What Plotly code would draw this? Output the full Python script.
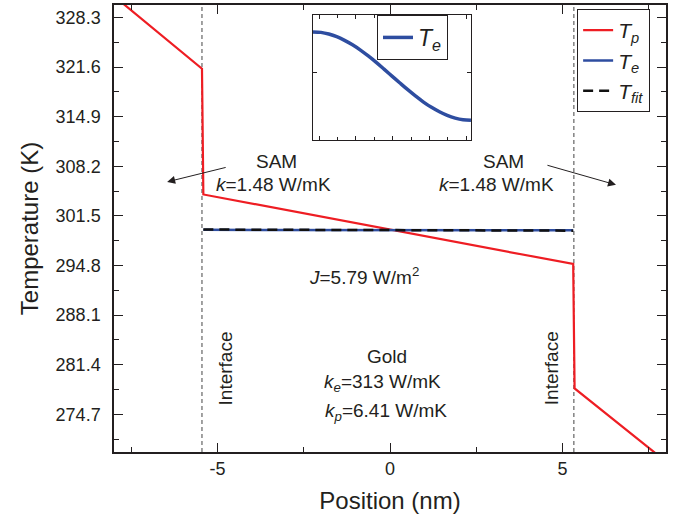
import plotly.graph_objects as go

# ---------------- data ----------------
tp_x = [-8.0, -5.45, -5.41, 5.31, 5.35, 8.0]
tp_y = [331.2, 321.4, 304.4, 295.0, 278.2, 268.3]

te_x = [-5.41, -4.87, -4.34, -3.80, -3.27, -2.73, -2.19, -1.66, -1.12, -0.59, -0.05,
        0.49, 1.02, 1.56, 2.09, 2.63, 3.17, 3.70, 4.24, 4.77, 5.31]
te_y = [299.6200, 299.6196, 299.6183, 299.6162, 299.6133, 299.6098, 299.6056,
        299.6009, 299.5958, 299.5905, 299.5850, 299.5795, 299.5742, 299.5691,
        299.5644, 299.5602, 299.5567, 299.5538, 299.5517, 299.5504, 299.5500]

tfit_x = [-5.41, 5.31]
tfit_y = [299.66, 299.51]

interfaces = [-5.45, 5.33]

y_tickvals = [274.7, 281.4, 288.1, 294.8, 301.5, 308.2, 314.9, 321.6, 328.3]
y_ticktext = ["274.7", "281.4", "288.1", "294.8", "301.5", "308.2", "314.9", "321.6", "328.3"]
y_minor = [271.35, 278.05, 284.75, 291.45, 298.15, 304.85, 311.55, 318.25, 324.95]
x_tickvals = [-5, 0, 5]
x_ticktext = ["-5", "0", "5"]
x_minor = [-7.5, -2.5, 2.5, 7.5]

FONT = "Arial, Liberation Sans, sans-serif"
INK = "#231F20"
RED = "#EE1D23"
BLUE = "#2E4DA0"

fig = go.Figure()
fig.add_trace(go.Scatter(x=tp_x, y=tp_y, mode="lines", name="<i>T</i><sub><i>p</i></sub>",
                         line=dict(color=RED, width=2.2)))
fig.add_trace(go.Scatter(x=te_x, y=te_y, mode="lines", name="<i>T</i><sub><i>e</i></sub>",
                         line=dict(color=BLUE, width=2.5)))
fig.add_trace(go.Scatter(x=tfit_x, y=tfit_y, mode="lines", name="<i>T</i><sub><i>fit</i></sub>",
                         line=dict(color="#111", width=2.5, dash="10px,6px")))
# inset
fig.add_trace(go.Scatter(x=te_x, y=te_y, mode="lines", name="<i>T</i><sub><i>e</i></sub>",
                         line=dict(color=BLUE, width=3.5, shape="spline", smoothing=1.0),
                         xaxis="x2", yaxis="y2", legend="legend2"))

for xi in interfaces:
    fig.add_shape(type="line", xref="x", yref="paper", x0=xi, x1=xi, y0=0, y1=1,
                  line=dict(color="#444", width=1, dash="4px,3px"), layer="below")

axis_common = dict(showline=True, linecolor=INK, linewidth=1.5, mirror="allticks",
                   ticks="inside", tickcolor=INK, tickwidth=1.3, ticklen=9,
                   showgrid=False, zeroline=False,
                   tickfont=dict(family=FONT, size=18, color=INK),
                   title_font=dict(family=FONT, size=24, color=INK))

fig.update_layout(
    width=677, height=528,
    margin=dict(l=114, r=11, t=3, b=76),
    plot_bgcolor="white", paper_bgcolor="white",
    font=dict(family=FONT, color=INK, size=19),
    xaxis=dict(range=[-8, 8], tickmode="array", tickvals=x_tickvals, ticktext=x_ticktext,
               minor=dict(tickmode="array", tickvals=x_minor, ticks="inside", ticklen=5,
                          tickcolor=INK, tickwidth=1.2),
               title=dict(text="Position (nm)", standoff=14), **axis_common),
    yaxis=dict(range=[269.6, 330.0], tickmode="array", tickvals=y_tickvals, ticktext=y_ticktext,
               minor=dict(tickmode="array", tickvals=y_minor, ticks="inside", ticklen=5,
                          tickcolor=INK, tickwidth=1.2),
               ticklabelstandoff=8,
               title=dict(text="Temperature (K)", standoff=10), **axis_common),
    xaxis2=dict(domain=[0.3605, 0.6467], anchor="y2", range=[-5.41, 5.31],
                showline=True, linecolor=INK, linewidth=1.3, mirror="allticks",
                ticks="inside", ticklen=4, tickcolor=INK, dtick=2.5, tick0=0,
                minor=dict(ticks="inside", ticklen=3, dtick=1.25, tickcolor=INK),
                showticklabels=False, showgrid=False, zeroline=False),
    yaxis2=dict(domain=[0.697, 0.9777], anchor="x2", range=[299.534, 299.6334],
                showline=True, linecolor=INK, linewidth=1.3, mirror="allticks",
                ticks="inside", ticklen=4, tickcolor=INK, tickmode="array", tickvals=[299.588],
                showticklabels=False, showgrid=False, zeroline=False),
    legend=dict(x=0.839, y=0.991, xanchor="left", yanchor="top",
                bordercolor=INK, borderwidth=1, bgcolor="white",
                font=dict(family=FONT, size=21, color=INK), tracegroupgap=0),
    legend2=dict(x=0.4764, y=0.9777, xanchor="left", yanchor="top",
                 bordercolor=INK, borderwidth=1, bgcolor="white",
                 font=dict(family=FONT, size=23, color=INK)),
    showlegend=True,
)

ann_font = dict(family=FONT, size=19, color=INK)
texts = [
    (-3.30, 308.9, "SAM", 0),
    (-3.39, 305.8, "<i>k</i>=1.48 W/mK", 0),
    (3.28, 308.9, "SAM", 0),
    (3.10, 305.8, "<i>k</i>=1.48 W/mK", 0),
    (-0.75, 293.4, "<i>J</i>=5.79 W/m<sup>2</sup>", 0),
    (-0.10, 282.5, "Gold", 0),
    (-0.23, 278.9, "<i>k</i><sub><i>e</i></sub>=313 W/mK", 0),
    (-0.12, 275.0, "<i>k</i><sub><i>p</i></sub>=6.41 W/mK", 0),
    (-4.78, 280.9, "Interface", -90),
    (4.69, 280.9, "Interface", -90),
]
for x, y, t, ang in texts:
    fig.add_annotation(x=x, y=y, text=t, showarrow=False, font=ann_font, textangle=ang,
                       xanchor="center", yanchor="middle")

# arrows
for (x0, y0, x1, y1) in [(-4.72, 308.1, -6.46, 306.1), (4.52, 308.4, 6.55, 305.7)]:
    fig.add_annotation(x=x1, y=y1, ax=x0, ay=y0, xref="x", yref="y", axref="x", ayref="y",
                       text="", showarrow=True, arrowhead=2, arrowsize=1.6, arrowwidth=1,
                       arrowcolor=INK)

fig.write_html("out.html")
